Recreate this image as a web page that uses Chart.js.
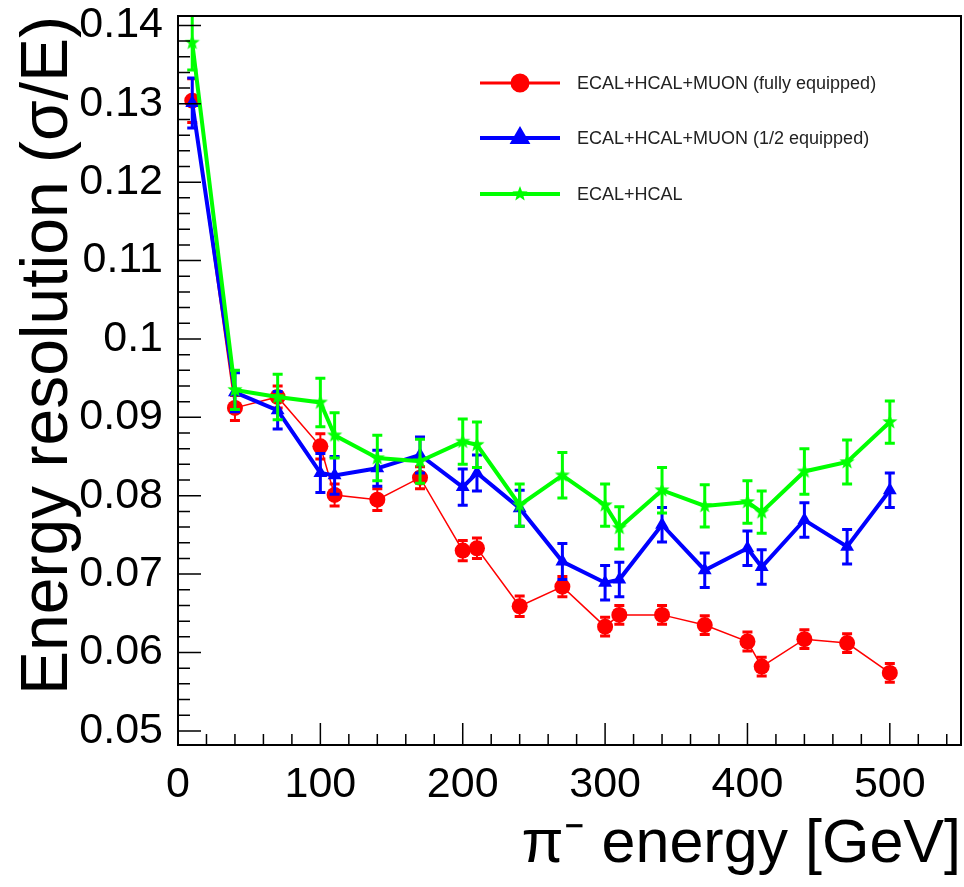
<!DOCTYPE html>
<html lang="en">
<head>
    <meta charset="UTF-8">
    <title>Energy resolution vs pion energy</title>
    <script src="https://cdn.jsdelivr.net/npm/chart.js"></script>
    <style>
        body { margin: 0; background: #fff; overflow: hidden; }
        .chart-box { width: 964px; height: 887px; }
        canvas { display: block; }
    </style>
</head>
<body>
    <div class="chart-box">
        <canvas id="resChart" width="964" height="887"></canvas>
    </div>

    <script>
        // Beam energies (GeV)
        const energy = [10, 40, 70, 100, 110, 140, 170, 200, 210, 240, 270, 300, 310, 340, 370, 400, 410, 440, 470, 500];

        // ECAL+HCAL+MUON (fully equipped)
        const fullRes = [0.1304, 0.0912, 0.0926, 0.0863, 0.0801, 0.0795, 0.0823, 0.0730, 0.0733, 0.0659, 0.0684, 0.0633, 0.0648, 0.0648, 0.0635, 0.0614, 0.0582, 0.0617, 0.0612, 0.0574];
        const fullErr = [0.0028, 0.0016, 0.0014, 0.0016, 0.0014, 0.0014, 0.0014, 0.0013, 0.0013, 0.0013, 0.0013, 0.0012, 0.0012, 0.0012, 0.0012, 0.0012, 0.0012, 0.0012, 0.0012, 0.0012];

        // ECAL+HCAL+MUON (1/2 equipped)
        const halfRes = [0.1301, 0.0932, 0.0909, 0.0829, 0.0826, 0.0835, 0.0852, 0.0811, 0.0829, 0.0784, 0.0716, 0.0689, 0.0693, 0.0763, 0.0705, 0.0733, 0.0709, 0.0769, 0.0735, 0.0807];
        const halfErr = [0.0032, 0.0025, 0.0024, 0.0025, 0.0024, 0.0023, 0.0023, 0.0023, 0.0023, 0.0023, 0.0023, 0.0022, 0.0022, 0.0022, 0.0022, 0.0022, 0.0022, 0.0022, 0.0022, 0.0022];

        // ECAL+HCAL
        const calRes = [0.1378, 0.0935, 0.0926, 0.0919, 0.0877, 0.0848, 0.0844, 0.0869, 0.0865, 0.0788, 0.0826, 0.0788, 0.0759, 0.0807, 0.0787, 0.0792, 0.0779, 0.0831, 0.0843, 0.0894];
        const calErr = [0.0035, 0.0025, 0.0029, 0.0031, 0.0029, 0.0029, 0.0028, 0.0029, 0.0029, 0.0027, 0.0029, 0.0027, 0.0027, 0.0029, 0.0027, 0.0027, 0.0027, 0.0029, 0.0028, 0.0027];

        const FONT = "'Liberation Sans', Arial, sans-serif";

        // small filled star, used as green marker
        function starImage(color, r) {
            const c = document.createElement('canvas');
            c.width = c.height = 2 * r + 2;
            const g = c.getContext('2d');
            g.fillStyle = color;
            g.beginPath();
            for (let i = 0; i < 10; i++) {
                const ang = -Math.PI / 2 + i * Math.PI / 5;
                const rad = i % 2 ? r * 0.42 : r;
                g.lineTo(r + 1 + rad * Math.cos(ang), r + 1 + rad * Math.sin(ang));
            }
            g.closePath();
            g.fill();
            return c;
        }

        const toPoints = (ys) => energy.map((e, i) => ({ x: e, y: ys[i] }));

        // error bars drawn right after each dataset
        const errorBars = {
            id: 'errorBars',
            afterDatasetDraw(chart, args) {
                const ds = chart.data.datasets[args.index];
                if (!ds.errors) return;
                const { ctx, chartArea: a, scales: { y } } = chart;
                ctx.save();
                ctx.beginPath();
                ctx.rect(a.left, a.top, a.right - a.left, a.bottom - a.top);
                ctx.clip();
                ctx.strokeStyle = ds.borderColor;
                args.meta.data.forEach((pt, i) => {
                    const v = ds.data[i].y;
                    const yTop = y.getPixelForValue(v + ds.errors[i]);
                    const yBot = y.getPixelForValue(v - ds.errors[i]);
                    ctx.lineWidth = ds.errWidth;
                    ctx.beginPath();
                    ctx.moveTo(pt.x, yTop);
                    ctx.lineTo(pt.x, yBot);
                    ctx.stroke();
                    ctx.lineWidth = 3;
                    ctx.beginPath();
                    ctx.moveTo(pt.x - 5, yTop); ctx.lineTo(pt.x + 5, yTop);
                    ctx.moveTo(pt.x - 5, yBot); ctx.lineTo(pt.x + 5, yBot);
                    ctx.stroke();
                });
                ctx.restore();
            }
        };

        // ROOT style frame with inward ticks, plus the legend inside the frame
        const frameAndLegend = {
            id: 'frameAndLegend',
            afterDraw(chart) {
                const { ctx, chartArea: a, scales: { x, y } } = chart;
                ctx.save();
                ctx.strokeStyle = '#000';
                ctx.lineWidth = 1.5;
                ctx.beginPath();
                for (let v = 0; v <= 550; v += 20) {
                    const px = x.getPixelForValue(v);
                    const len = v % 100 === 0 ? 22 : 11;
                    ctx.moveTo(px, a.bottom);
                    ctx.lineTo(px, a.bottom - len);
                }
                for (let k = 25; k <= 70; k++) {
                    const py = y.getPixelForValue(k / 500);
                    const len = k % 5 === 0 ? 23 : 12;
                    ctx.moveTo(a.left, py);
                    ctx.lineTo(a.left + len, py);
                }
                ctx.stroke();
                ctx.lineWidth = 2;
                ctx.strokeRect(a.left, a.top, a.right - a.left, a.bottom - a.top);

                // legend
                const rows = [83, 138, 194];
                chart.data.datasets.forEach((ds, i) => {
                    const ly = rows[i];
                    ctx.strokeStyle = ds.borderColor;
                    ctx.fillStyle = ds.borderColor;
                    ctx.lineWidth = ds.legendWidth;
                    ctx.beginPath();
                    ctx.moveTo(480, ly);
                    ctx.lineTo(560, ly);
                    ctx.stroke();
                    Chart.helpers.drawPoint(ctx, {
                        pointStyle: ds.pointStyle,
                        radius: ds.pointRadius,
                        borderWidth: 1,
                        rotation: 0
                    }, 520, ly);
                    ctx.fillStyle = '#222';
                    ctx.font = '18px ' + FONT;
                    ctx.textAlign = 'left';
                    ctx.textBaseline = 'middle';
                    ctx.fillText(ds.label, 577, ly + 1);
                });
                ctx.restore();
            }
        };

        const ctx = document.getElementById('resChart').getContext('2d');
        const resChart = new Chart(ctx, {
            type: 'line',
            data: {
                datasets: [
                    {
                        label: 'ECAL+HCAL+MUON (fully equipped)',
                        data: toPoints(fullRes),
                        errors: fullErr,
                        errWidth: 2,
                        legendWidth: 3,
                        borderColor: '#ff0000',
                        backgroundColor: '#ff0000',
                        borderWidth: 1.5,
                        pointStyle: 'circle',
                        pointRadius: 8,
                        pointBorderWidth: 0,
                        order: 3
                    },
                    {
                        label: 'ECAL+HCAL+MUON (1/2 equipped)',
                        data: toPoints(halfRes),
                        errors: halfErr,
                        errWidth: 3,
                        legendWidth: 4,
                        borderColor: '#0000ff',
                        backgroundColor: '#0000ff',
                        borderWidth: 4,
                        pointStyle: 'triangle',
                        pointRadius: 8,
                        pointBorderWidth: 0,
                        order: 2
                    },
                    {
                        label: 'ECAL+HCAL',
                        data: toPoints(calRes),
                        errors: calErr,
                        errWidth: 3,
                        legendWidth: 4,
                        borderColor: '#00ff00',
                        backgroundColor: '#00ff00',
                        borderWidth: 4,
                        pointStyle: starImage('#00ff00', 8),
                        pointRadius: 8,
                        pointBorderWidth: 0,
                        order: 1
                    }
                ]
            },
            options: {
                responsive: false,
                animation: false,
                events: [],
                layout: { autoPadding: false, padding: { left: 16, right: 3, top: 16, bottom: 11 } },
                plugins: {
                    legend: { display: false },
                    tooltip: { enabled: false }
                },
                elements: { line: { tension: 0 } },
                scales: {
                    x: {
                        type: 'linear',
                        min: 0,
                        max: 550,
                        grid: { display: false, drawTicks: false },
                        border: { display: false },
                        ticks: {
                            stepSize: 100,
                            includeBounds: false,
                            autoSkip: false,
                            maxRotation: 0,
                            padding: 14,
                            color: '#000',
                            font: { family: FONT, size: 43 }
                        },
                        title: {
                            display: true,
                            text: 'π⁻ energy [GeV]',
                            align: 'end',
                            color: '#000',
                            padding: 0,
                            font: { family: FONT, size: 61, lineHeight: 1 }
                        },
                        afterFit(scale) {
                            scale.height = 131;
                            scale.paddingLeft = 0;
                            scale.paddingRight = 0;
                        }
                    },
                    y: {
                        type: 'linear',
                        min: 0.0482,
                        max: 0.1412,
                        grid: { display: false, drawTicks: false },
                        border: { display: false },
                        ticks: {
                            stepSize: 0.01,
                            includeBounds: false,
                            padding: 15,
                            color: '#000',
                            font: { family: FONT, size: 43 },
                            callback: (v) => String(+v.toFixed(2))
                        },
                        title: {
                            display: true,
                            text: 'Energy resolution (σ/E)',
                            align: 'end',
                            color: '#000',
                            padding: 0,
                            font: { family: FONT, size: 66, lineHeight: 1 }
                        },
                        afterFit(scale) {
                            scale.width = 162;
                            scale.paddingTop = 0;
                            scale.paddingBottom = 0;
                        }
                    }
                }
            },
            plugins: [errorBars, frameAndLegend]
        });
    </script>
</body>
</html>
